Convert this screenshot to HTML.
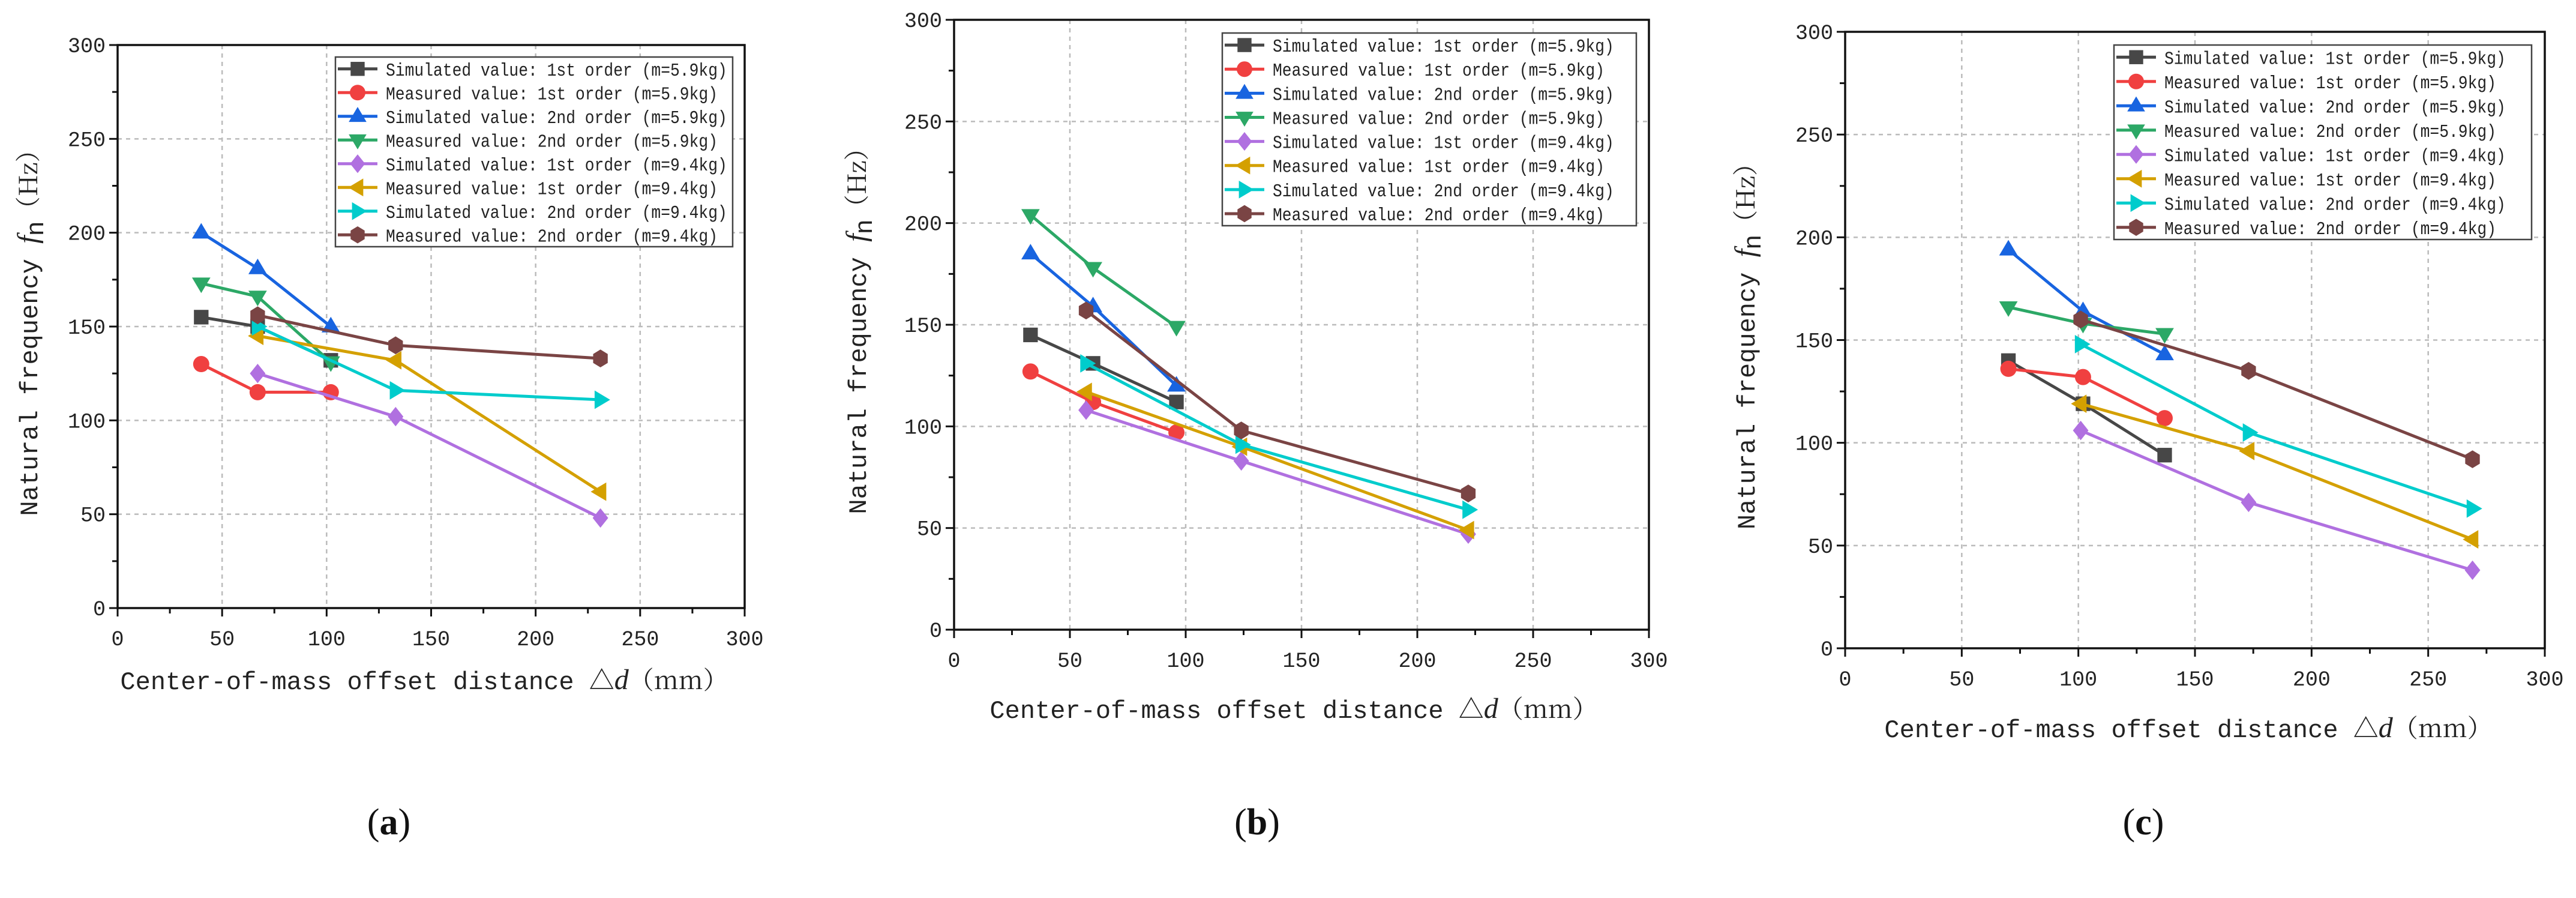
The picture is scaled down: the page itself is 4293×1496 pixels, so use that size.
<!DOCTYPE html>
<html><head><meta charset="utf-8"><style>
html,body{margin:0;padding:0;background:#fff;}
svg{display:block;}
text{font-family:"Liberation Mono","Noto Serif CJK SC",monospace;fill:#222;}
text.cap{font-family:"Liberation Serif",serif;fill:#111;}
</style></head><body>
<svg id="fig" width="4293" height="1496" viewBox="0 0 4293 1496" xmlns="http://www.w3.org/2000/svg"></svg>
<script>
// ---- data ----
const seriesNames = ["Simulated value: 1st order (m=5.9kg)","Measured value: 1st order (m=5.9kg)","Simulated value: 2nd order (m=5.9kg)","Measured value: 2nd order (m=5.9kg)","Simulated value: 1st order (m=9.4kg)","Measured value: 1st order (m=9.4kg)","Simulated value: 2nd order (m=9.4kg)","Measured value: 2nd order (m=9.4kg)"];
const xTicks = [0,50,100,150,200,250,300];
const yTicks = [0,50,100,150,200,250,300];
// chart a
const aX59 = [40,67,102];
const aX94 = [67,133,231];
const aSim1_59 = [155,150,132];
const aMeas1_59 = [130,115,115];
const aSim2_59 = [200,181,150];
const aMeas2_59 = [173,166,131];
const aSim1_94 = [125,102,48];
const aMeas1_94 = [145,132,62];
const aSim2_94 = [150,116,111];
const aMeas2_94 = [156,140,133];
// chart b
const bX59 = [33,60,96];
const bX94 = [57,124,222];
const bSim1_59 = [145,131,112];
const bMeas1_59 = [127,112,97];
const bSim2_59 = [185,159,120];
const bMeas2_59 = [204,178,149];
const bSim1_94 = [108,83,47];
const bMeas1_94 = [117,90,49];
const bSim2_94 = [131,91,59];
const bMeas2_94 = [157,98,67];
// chart c
const cX59 = [70,102,137];
const cX94 = [101,173,269];
const cSim1_59 = [140,119,94];
const cMeas1_59 = [136,132,112];
const cSim2_59 = [194,164,143];
const cMeas2_59 = [166,158,153];
const cSim1_94 = [106,71,38];
const cMeas1_94 = [119,96,53];
const cSim2_94 = [148,105,68];
const cMeas2_94 = [160,135,92];

const colors = ["#474747","#f04040","#1864e0","#2ca866","#b070e0","#d4a000","#00cccc","#7a4444"];
const markers = ["square","circle","up","down","diamond","left","right","hex"];
const NS = "http://www.w3.org/2000/svg";
const svg = document.getElementById('fig');
function el(tag, attrs, parent){const e=document.createElementNS(NS,tag);for(const k in attrs)e.setAttribute(k,attrs[k]);(parent||svg).appendChild(e);return e;}

function marker(g, type, cx, cy, color, s){
  let e;
  if(type==="square") e=el('rect',{x:cx-s*0.45,y:cy-s*0.45,width:s*0.9,height:s*0.9,fill:color},g);
  else if(type==="circle") e=el('circle',{cx:cx,cy:cy,r:s*0.5,fill:color},g);
  else {
    let pts;
    const r=s*0.6;
    if(type==="up") pts=[[0,-r],[r*0.95,r*0.6],[-r*0.95,r*0.6]];
    else if(type==="down") pts=[[0,r],[r*0.95,-r*0.6],[-r*0.95,-r*0.6]];
    else if(type==="left") pts=[[-r,0],[r*0.6,-r*0.95],[r*0.6,r*0.95]];
    else if(type==="right") pts=[[r,0],[-r*0.6,-r*0.95],[-r*0.6,r*0.95]];
    else if(type==="diamond") pts=[[0,-r],[r*0.8,0],[0,r],[-r*0.8,0]];
    else { pts=[]; for(let i=0;i<6;i++){const a=Math.PI/2+i*Math.PI/3;pts.push([Math.cos(a)*s*0.52,Math.sin(a)*s*0.55]);} }
    e=el('polygon',{points:pts.map(p=>(cx+p[0])+','+(cy+p[1])).join(' '),fill:color},g);
  }
  return e;
}

function drawChart(cfg){
  const {id,L,R,T,B,xs,ys,leg,ylabX,xtitleY,xtitleX,capX,capY} = cfg;
  const sx = v => L + (v-0)/(300-0)*(R-L);
  const sy = v => B - (v-0)/(300-0)*(B-T);
  const g = el('g',{});
  
  
  xTicks.slice(1,-1).forEach(t=>{const l=el('line',{x1:sx(t),x2:sx(t),y1:T,y2:B,stroke:'#bbb','stroke-width':2.5,'stroke-dasharray':'7,7'},g);});
  yTicks.slice(1,-1).forEach(t=>{const l=el('line',{x1:L,x2:R,y1:sy(t),y2:sy(t),stroke:'#bbb','stroke-width':2.5,'stroke-dasharray':'7,7'},g);});
  const fr = el('rect',{x:L,y:T,width:R-L,height:B-T,fill:'none',stroke:'#111','stroke-width':3.5},g);
  
  
  for(let v=0; v<=300; v+=25){
    const major = v%50===0;
    el('line',{x1:sx(v),x2:sx(v),y1:B,y2:B+(major?14:9),stroke:'#111','stroke-width':3},g);
    el('line',{x1:L,x2:L-(major?14:9),y1:sy(v),y2:sy(v),stroke:'#111','stroke-width':3},g);
  }
  xTicks.forEach(t=>{const tx=el('text',{x:sx(t),y:B+62,'font-size':35,'text-anchor':'middle'},g);tx.textContent=t;
    
    });
  yTicks.forEach(t=>{const tx=el('text',{x:L-20,y:sy(t)+12,'font-size':35,'text-anchor':'end'},g);tx.textContent=t;
    
    });
  const yt = el('text',{transform:`translate(${ylabX},${(T+B)/2}) rotate(-90)`,'font-size':42,'text-anchor':'middle'},g);
  yt.innerHTML = 'Natural frequency <tspan font-style="italic" style="font-family:\'Liberation Serif\',serif" font-size="48">f</tspan><tspan dy="10" style="font-family:\'Liberation Sans\',sans-serif">n</tspan><tspan dy="-10" style="font-family:\'Noto Serif CJK SC\',serif">（Hz）</tspan>';
  
  
  const xt = el('text',{x:xtitleX,y:xtitleY,'font-size':42,'text-anchor':'middle'},g);
  xt.innerHTML = 'Center-of-mass offset distance <tspan style="font-family:\'Noto Serif CJK SC\',serif">△</tspan><tspan font-style="italic" style="font-family:\'Liberation Serif\',serif" font-size="48">d</tspan><tspan style="font-family:\'Noto Serif CJK SC\',serif">（mm）</tspan>';
  
  
  ys.forEach((vals,i)=>{
    const xv = i<4 ? xs[0] : xs[1];
    const sg = el('g',{},g);
    
    
    const pl = el('polyline',{points:vals.map((v,j)=>sx(xv[j])+','+sy(v)).join(' '),fill:'none',stroke:colors[i],'stroke-width':5,'stroke-linejoin':'round'},sg);
    
    
    vals.forEach((v,j)=>{const m=marker(sg,markers[i],sx(xv[j]),sy(v),colors[i],27);
      
      });
  });
  const lg = el('g',{},g);
  
  
  el('rect',{x:leg.x,y:leg.y,width:leg.w,height:leg.h,fill:'#fff',stroke:'#444','stroke-width':2.5},lg);
  const rowH = leg.h/8;
  seriesNames.forEach((n,i)=>{
    const cy = leg.y + rowH*(i+0.5);
    const eg = el('g',{},lg);
    
    
    el('line',{x1:leg.x+4,x2:leg.x+70,y1:cy,y2:cy,stroke:colors[i],'stroke-width':5},eg);
    marker(eg,markers[i],leg.x+37,cy,colors[i],26);
    const t = el('text',{x:leg.x+84,y:cy+11,'font-size':31,textLength:(n.length)*15.8,lengthAdjust:'spacingAndGlyphs'},eg);
    t.textContent = n;
  });
  const cap = el('text',{x:capX,y:capY,'font-size':62,'text-anchor':'middle','class':'cap'},g);
  cap.innerHTML = '(<tspan font-weight="bold">'+id+'</tspan>)';
  
  
}

drawChart({id:'a',L:196,R:1241,T:75,B:1013,xs:[aX59,aX94],ys:[aSim1_59,aMeas1_59,aSim2_59,aMeas2_59,aSim1_94,aMeas1_94,aSim2_94,aMeas2_94],
  leg:{x:559,y:95,w:662,h:316},ylabX:62,xtitleX:707,xtitleY:1148,capX:648,capY:1390});
drawChart({id:'b',L:1590,R:2748,T:33,B:1049,xs:[bX59,bX94],ys:[bSim1_59,bMeas1_59,bSim2_59,bMeas2_59,bSim1_94,bMeas1_94,bSim2_94,bMeas2_94],
  leg:{x:2037,y:55,w:690,h:321},ylabX:1443,xtitleX:2156,xtitleY:1196,capX:2095,capY:1390});
drawChart({id:'c',L:3075,R:4241,T:53,B:1080,xs:[cX59,cX94],ys:[cSim1_59,cMeas1_59,cSim2_59,cMeas2_59,cSim1_94,cMeas1_94,cSim2_94,cMeas2_94],
  leg:{x:3523,y:75,w:696,h:324},ylabX:2924,xtitleX:3647,xtitleY:1228,capX:3572,capY:1390});
</script>
</body></html>
